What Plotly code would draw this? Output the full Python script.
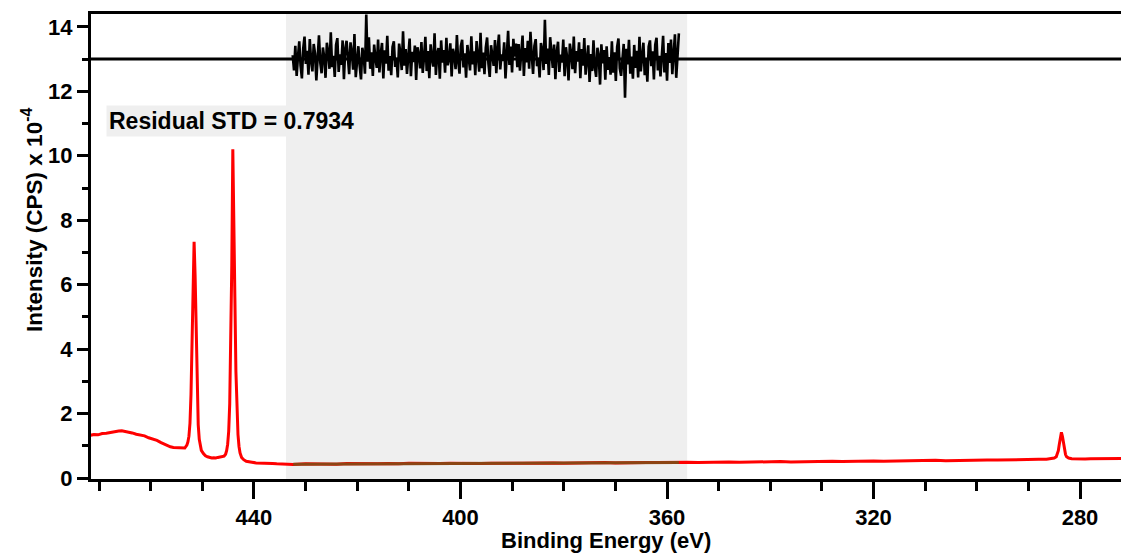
import numpy as np
import plotly.graph_objects as go

# ---------------- data ----------------
spec_be = [471.6, 471.0, 470.2, 469.4, 468.6, 467.8, 467.0, 466.2, 465.6, 465.0, 464.4, 463.6, 462.8,
           462.0, 461.2, 460.4, 459.6, 458.8, 458.0, 457.4, 456.8, 456.2, 455.6, 455.0, 454.4, 453.8,
           453.4, 453.0, 452.8, 452.6, 452.4, 452.2, 452.0, 451.8, 451.6, 451.4, 451.2, 451.0, 450.8,
           450.6, 450.4, 450.2, 449.8, 449.4, 449.0, 448.6, 448.2, 447.8, 447.4, 447.0, 446.6, 446.2,
           445.8, 445.5, 445.3, 445.1, 444.9, 444.7, 444.5, 444.3, 444.1, 443.9, 443.7, 443.5, 443.3,
           443.1, 442.9, 442.7, 442.4, 442.0, 441.5, 441.0, 440.4, 439.6, 438.8, 438.0, 437.2, 436.4,
           435.6, 434.8, 434.0, 433.2, 432.4, 430, 428, 426, 424, 422, 420, 418, 416, 414, 412, 410,
           408, 406, 404, 402, 400, 398, 396, 394, 392, 390, 388, 386, 384, 382, 380, 378, 376, 374,
           372, 370, 368, 366, 364, 362, 360, 358, 356, 354, 352, 350, 348, 346, 344, 342, 340, 338,
           336, 334, 332, 330, 328, 326, 324, 322, 320, 318, 316, 314, 312, 310, 308, 306, 304, 302,
           300, 298, 296, 294, 292, 290, 288, 286.5, 285.5, 285.0, 284.6, 284.4, 284.2, 284.0, 283.8,
           283.6, 283.4, 283.2, 283.0, 282.8, 282.6, 282.2, 281.6, 280.8, 280, 279, 278, 277, 276,
           275, 274, 273, 272]
spec_int = [1.33, 1.35, 1.34, 1.38, 1.39, 1.42, 1.43, 1.46, 1.47, 1.45, 1.44, 1.40, 1.36,
            1.34, 1.31, 1.25, 1.21, 1.17, 1.10, 1.05, 1.02, 0.97, 0.95, 0.94, 0.93, 0.94,
            0.93, 1.02, 1.12, 1.30, 1.70, 2.60, 4.30, 6.30, 7.33, 6.25, 4.25, 2.60, 1.65,
            1.20, 0.98, 0.86, 0.76, 0.69, 0.66, 0.64, 0.62, 0.63, 0.62, 0.64, 0.65, 0.66,
            0.68, 0.74, 0.85, 1.05, 1.45, 2.30, 4.00, 6.60, 10.20, 8.50, 5.60, 3.30, 2.00,
            1.35, 0.98, 0.78, 0.64, 0.57, 0.52, 0.50, 0.49, 0.47, 0.47, 0.46, 0.45, 0.45,
            0.44, 0.43, 0.42, 0.43, 0.42, 0.44, 0.43, 0.44, 0.43, 0.45, 0.44, 0.45, 0.44, 0.45, 0.44, 0.46,
            0.45, 0.44, 0.45, 0.46, 0.45, 0.46, 0.45, 0.46, 0.47, 0.46, 0.46, 0.47, 0.46, 0.47, 0.46, 0.47, 0.48, 0.47,
            0.48, 0.47, 0.48, 0.49, 0.48, 0.48, 0.49, 0.48, 0.49, 0.48, 0.49, 0.48, 0.50, 0.49, 0.50, 0.49, 0.50, 0.51,
            0.50, 0.51, 0.50, 0.51, 0.52, 0.51, 0.52, 0.52, 0.53, 0.52, 0.53, 0.54, 0.53, 0.54, 0.55, 0.54, 0.55, 0.56,
            0.55, 0.56, 0.56, 0.57, 0.56, 0.57, 0.58, 0.58, 0.60, 0.62, 0.66, 0.73, 0.85, 1.06, 1.29,
            1.42, 1.29, 1.06, 0.85, 0.73, 0.66, 0.62, 0.60, 0.59, 0.60, 0.59, 0.60, 0.60, 0.61,
            0.60, 0.61, 0.61, 0.61]

fit_be = [432.4, 420, 400, 380, 357.7]
fit_int = [0.43, 0.44, 0.45, 0.465, 0.48]

residual = [
    0.12, -0.35, 0.41, -0.52, 0.08, 0.55, -0.21, -0.60, 0.33, 0.70, -0.15, 0.26, -0.48, 0.62, -0.05, -0.38, 0.47, 0.18, -0.66, 0.29,
    0.74, -0.12, -0.44, 0.36, 0.05, -0.58, 0.51, 0.22, -0.30, 0.83, -0.25, 0.10, -0.55, 0.44, 0.65, -0.40, 0.15, -0.18, 0.58, -0.62,
    0.30, 0.57, -0.10, -0.47, 0.52, 0.20, -0.33, 0.78, -0.56, 0.06, 0.40, -0.22, -0.63, 0.35, 0.12, -0.45, 1.38, -0.08, 0.68, -0.30,
    0.21, -0.52, 0.45, 0.03, -0.27, 0.61, -0.41, 0.16, 0.50, -0.60, 0.27, -0.14, 0.72, -0.36, 0.09, -0.50, 0.38, 0.55, -0.24, 0.04,
    -0.57, 0.48, 0.19, -0.34, 0.86, -0.20, 0.31, -0.46, 0.11, 0.64, -0.53, 0.23, -0.09, 0.42, -0.65, 0.37, 0.14, -0.29, 0.53, -0.43,
    0.07, 0.69, -0.37, 0.25, -0.59, 0.46, 0.02, -0.23, 0.80, -0.49, 0.17, 0.34, -0.61, 0.58, -0.11, 0.28, -0.42, 0.66, -0.19, 0.01,
    0.49, -0.54, 0.32, 0.13, -0.31, 0.75, -0.07, -0.45, 0.40, 0.60, -0.26, 0.18, -0.58, 0.44, 0.05, -0.35, 0.71, -0.16, 0.24, -0.50,
    0.56, 0.10, -0.39, 0.82, -0.28, 0.20, -0.47, 0.36, 0.67, -0.13, -0.55, 0.43, 0.09, -0.21, 0.59, -0.44, 0.30, 0.76, -0.32, 0.15,
    -0.06, 0.52, -0.60, 0.27, 0.88, -0.18, 0.39, -0.41, 0.63, 0.08, 0.48, -0.25, 0.47, -0.36, 0.19, 0.73, -0.52, 0.34, -0.10, 0.57,
    -0.30, 0.85, 0.12, -0.46, 0.41, 0.62, -0.22, 0.04, -0.57, 0.50, 0.26, -0.34, 1.22, -0.15, 0.33, -0.49, 0.68, 0.07, -0.27, 0.45,
    -0.62, 0.22, 0.54, -0.40, 0.14, -0.11, 0.61, -0.53, 0.37, 0.02, -0.66, 0.48, 0.18, -0.31, 0.70, -0.44, 0.25, -0.08, 0.52, -0.59,
    0.31, -0.20, 0.65, -0.48, 0.09, 0.43, -0.71, 0.16, -0.37, 0.58, -0.24, -0.55, 0.35, 0.11, -0.79, 0.46, -0.13, 0.28, -0.64, 0.40,
    -0.33, 0.06, -0.48, 0.55, -0.42, 0.21, -0.68, 0.38, 0.64, -0.29, -0.52, 0.17, 0.47, -1.20, 0.32, -0.16, 0.60, -0.45, 0.08, -0.61,
    0.44, -0.27, 0.26, -0.57, 0.69, -0.38, 0.13, 0.51, -0.50, 0.00, -0.70, 0.39, 0.58, -0.22, 0.24, -0.63, 0.45, 0.66, -0.35, 0.10,
    -0.54, 0.34, 0.72, -0.41, 0.19, -0.67, 0.50, -0.12, 0.61, -0.47, 0.29, 0.77, -0.58, 0.15, 0.80,
]
residual_start, residual_end = 432.5, 357.7
residual_offset = 13.0
region_start, region_end = 433.8, 356.1
std_text = "Residual STD = 0.7934"

x_ticks = [440, 400, 360, 320, 280]
y_ticks = [0, 2, 4, 6, 8, 10, 12, 14]

# ---------------- figure ----------------
res_be = np.linspace(residual_start, residual_end, len(residual))
res_y = [residual_offset + r for r in residual]

FONT = "Liberation Sans, Arial, sans-serif"

fig = go.Figure()
fig.add_trace(go.Scatter(x=spec_be, y=spec_int, mode="lines",
                         line=dict(color="#ff0000", width=3), showlegend=False))
fig.add_trace(go.Scatter(x=fit_be, y=fit_int, mode="lines",
                         line=dict(color="#8B4513", width=3), showlegend=False))
fig.add_trace(go.Scatter(x=res_be, y=res_y, mode="lines",
                         line=dict(color="black", width=2.6), showlegend=False))

fig.add_shape(type="rect", xref="x", yref="paper", x0=region_start, x1=region_end,
              y0=0, y1=1, fillcolor="#efefef", line=dict(width=0), layer="below")
fig.add_shape(type="line", xref="paper", yref="y", x0=0, x1=1,
              y0=residual_offset, y1=residual_offset,
              line=dict(color="black", width=3), layer="below")

fig.add_annotation(x=468.7, y=11.09, xref="x", yref="y", text=std_text,
                   showarrow=False, xanchor="left", yanchor="middle",
                   bgcolor="#efefef", borderpad=2,
                   font=dict(family=FONT, size=23, color="black", weight="bold"))

fig.add_annotation(x=0.5, y=0, xref="paper", yref="paper", text="Binding Energy (eV)",
                   showarrow=False, xanchor="center", yanchor="top", yshift=-47,
                   font=dict(family=FONT, size=22, color="black", weight="bold"))
fig.add_annotation(x=0, y=8.01, xref="paper", yref="y",
                   text="Intensity (CPS) x 10<sup>-4</sup>", textangle=-90,
                   showarrow=False, xanchor="center", yanchor="middle", xshift=-59,
                   font=dict(family=FONT, size=22.5, color="black", weight="bold"))

tickfont = dict(family=FONT, size=22, color="black", weight="bold")
fig.update_xaxes(range=[471.57, 272.06], tickvals=x_ticks, ticks="outside",
                 ticklen=17, tickwidth=3, tickcolor="black",
                 minor=dict(dtick=10, ticks="outside", ticklen=9, tickwidth=3, tickcolor="black"),
                 showline=True, linewidth=3, linecolor="black", mirror=True,
                 showgrid=False, zeroline=False, tickfont=tickfont)
fig.update_yaxes(range=[-0.03, 14.40], tickvals=y_ticks, ticks="outside",
                 ticklen=11, tickwidth=3, tickcolor="black",
                 minor=dict(dtick=1, ticks="outside", ticklen=6, tickwidth=3, tickcolor="black"),
                 showline=True, linewidth=3, linecolor="black", mirror=False,
                 showgrid=False, zeroline=False, tickfont=tickfont)

fig.update_layout(width=1121, height=557, margin=dict(l=91, r=0, t=14, b=78),
                  plot_bgcolor="white", paper_bgcolor="white", showlegend=False)

fig.write_html("out.html")
